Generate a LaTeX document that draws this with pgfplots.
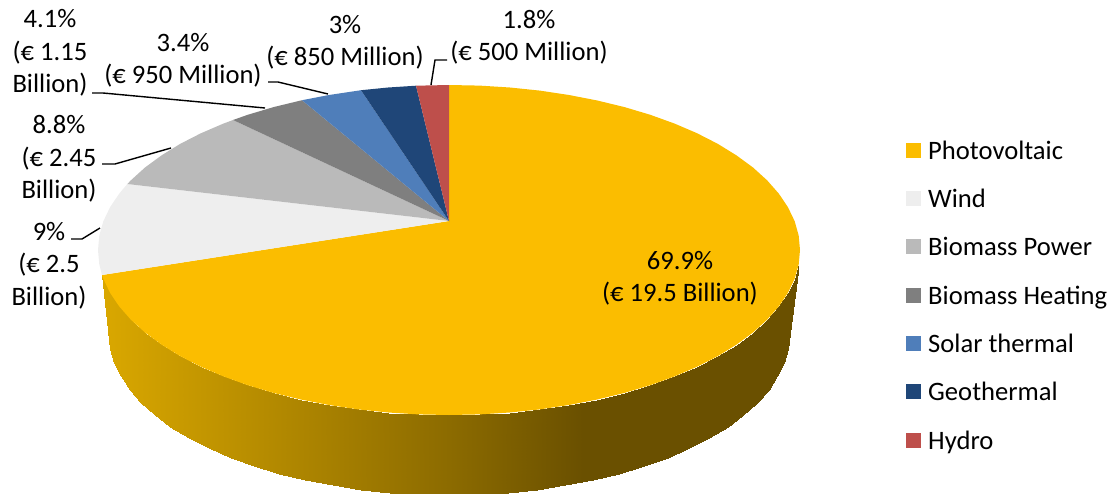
\documentclass[border=0pt]{standalone}
\usepackage{fontspec}
\setmainfont{Carlito}
\usepackage{pgfplots}
\pgfplotsset{compat=1.18}
\definecolor{pvc}{HTML}{FBBD00}
\definecolor{windc}{HTML}{EEEEEE}
\definecolor{bpc}{HTML}{BABABA}
\definecolor{bhc}{HTML}{7F7F7F}
\definecolor{stc}{HTML}{4F7EBA}
\definecolor{geoc}{HTML}{1F4678}
\definecolor{hyc}{HTML}{BE4F4B}
\begin{document}
\begin{tikzpicture}
\useasboundingbox (0,0) rectangle (1115pt,493pt);
\begin{axis}[
    width=1115pt, height=493pt, scale only axis,
    at={(0,0)}, anchor=south west,
    xmin=0, xmax=1115, ymin=0, ymax=493,
    y dir=reverse,
    hide axis, enlargelimits=false, no markers,
    colormap={sidewall}{rgb255(0cm)=(218,168,0); rgb255(34.9cm)=(140,107,0); rgb255(48.3cm)=(106,80,0); rgb255(70cm)=(106,80,0)},
    point meta min=100, point meta max=800,
    legend image code/.code={\fill[#1] (0pt,-3.5pt) rectangle (15pt,11.5pt);},
    legend cell align=left,
    legend style={at={(axis cs:906,142.5)}, anchor=north west, draw=none, fill=none, inner sep=0pt,
        row sep=25.8pt, column sep=7pt,
        nodes={inner sep=0pt, text height=16pt, text depth=6pt, font=\fontsize{26.6}{28}\selectfont}},
]
% rim of the disc, top edge and bottom edge in pixels of the picture
\addplot[surf, shader=interp, mesh/ordering=y varies, mesh/rows=2, forget plot, point meta=x] table {
x y
798.7 264.4
789 335
798.7 264.4
787.7 348.9
794.7 278.7
783.8 362.8
788 292.7
777.4 376.4
778.8 306.4
768.5 389.7
767.1 319.7
757.1 402.6
753 332.5
743.4 415
736.5 344.6
727.5 426.8
717.9 356.1
709.4 437.8
697.2 366.7
689.4 448.1
674.6 376.4
667.5 457.6
650.3 385.2
644 466.1
624.5 392.9
619 473.6
597.3 399.5
592.7 480
569 405
565.3 485.4
539.8 409.4
537 489.5
509.9 412.5
508 492.6
479.6 414.4
478.6 494.4
449 415
449 495
418.4 414.4
419.4 494.4
388.1 412.5
390 492.6
358.2 409.4
361 489.5
329 405
332.7 485.4
300.7 399.5
305.3 480
273.5 392.9
279 473.6
247.7 385.2
254 466.1
223.4 376.4
230.5 457.6
200.8 366.7
208.6 448.1
180.1 356.1
188.6 437.8
161.5 344.6
170.5 426.8
145 332.5
154.6 415
130.9 319.7
140.9 402.6
119.2 306.4
129.5 389.7
110 292.7
120.6 376.4
103.3 278.7
114.2 362.8
102 275
110.3 348.9
102 275
109 335
};
% top of the disc
\addplot[fill=pvc, draw=none] coordinates {
(449,221) (449,85) (479.6,85.6) (509.9,87.5) (539.8,90.6) (569,95) (597.3,100.5)
(624.5,107.1) (650.3,114.8) (674.6,123.6) (697.2,133.3) (717.9,143.9) (736.5,155.4)
(753,167.5) (767.1,180.3) (778.8,193.6) (788,207.3) (794.7,221.3) (798.7,235.6)
(800,250) (798.7,264.4) (794.7,278.7) (788,292.7) (778.8,306.4) (767.1,319.7)
(753,332.5) (736.5,344.6) (717.9,356.1) (697.2,366.7) (674.6,376.4) (650.3,385.2)
(624.5,392.9) (597.3,399.5) (569,405) (539.8,409.4) (509.9,412.5) (479.6,414.4)
(449,415) (418.4,414.4) (388.1,412.5) (358.2,409.4) (329,405) (300.7,399.5)
(273.5,392.9) (247.7,385.2) (223.4,376.4) (200.8,366.7) (180.1,356.1) (161.5,344.6)
(145,332.5) (130.9,319.7) (119.2,306.4) (110,292.7) (103.3,278.7) (102,275)
} --cycle;
\addlegendentry{Photovoltaic}
\addplot[fill=windc, draw=none] coordinates {
(449,221) (102,275) (99.3,264.4) (98,250) (99.3,235.6) (103.3,221.3) (110,207.3)
(119.2,193.6) (127.3,184)
} --cycle;
\addlegendentry{Wind}
\addplot[fill=bpc, draw=none] coordinates {
(449,221) (127.3,184) (130.9,180.3) (145,167.5) (161.5,155.4) (180.1,143.9)
(200.8,133.3) (223.4,123.6) (233,120)
} --cycle;
\addlegendentry{Biomass Power}
\addplot[fill=bhc, draw=none] coordinates {
(449,221) (233,120) (247.7,114.8) (273.5,107.1) (302,100.2)
} --cycle;
\addlegendentry{Biomass Heating}
\addplot[fill=stc, draw=none] coordinates {
(449,221) (302,100.2) (329,95) (361,90.2)
} --cycle;
\addlegendentry{Solar thermal}
\addplot[fill=geoc, draw=none] coordinates {
(449,221) (361,90.2) (388.1,87.5) (416,85.7)
} --cycle;
\addlegendentry{Geothermal}
\addplot[fill=hyc, draw=none] coordinates {
(449,221) (416,85.7) (449,85)
} --cycle;
\addlegendentry{Hydro}
% leader lines
\addplot[black, line width=1.4pt, forget plot] coordinates {(431,85) (435,60) (447,60)};
\addplot[black, line width=1.4pt, forget plot] coordinates {(328,94) (278,82) (268,82)};
\addplot[black, line width=1.4pt, forget plot] coordinates {(265,108) (103,93) (92,93)};
\addplot[black, line width=1.4pt, forget plot] coordinates {(171,148) (115,164) (102,164)};
\addplot[black, line width=1.4pt, forget plot] coordinates {(100,228) (82,239) (71,239)};
% data labels
\tikzset{lab/.style={align=center, inner sep=0pt, font=\fontsize{26.6}{32.4}\selectfont}}
\node[lab] at (axis cs:50,53) {4.1\%\\(€ 1.15\\Billion)};
\node[lab] at (axis cs:183,60.5) {3.4\%\\(€ 950 Million)};
\node[lab] at (axis cs:345,42.5) {3\%\\(€ 850 Million)};
\node[lab] at (axis cs:529,37) {1.8\%\\(€ 500 Million)};
\node[lab] at (axis cs:59,159) {8.8\%\\(€ 2.45\\Billion)};
\node[lab] at (axis cs:49,265.5) {9\%\\(€ 2.5\\Billion)};
\node[lab] at (axis cs:680,278) {69.9\%\\(€ 19.5 Billion)};
\end{axis}
\end{tikzpicture}
\end{document}
